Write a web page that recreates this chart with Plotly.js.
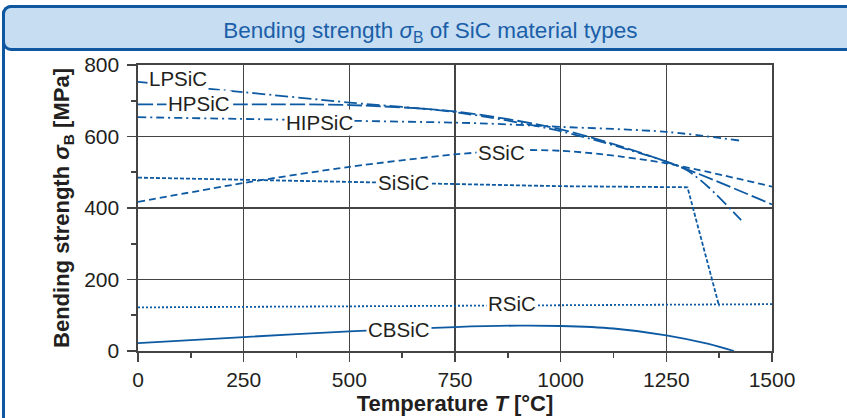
<!DOCTYPE html>
<html>
<head>
<meta charset="utf-8">
<script src="https://cdn.plot.ly/plotly-3.0.1.min.js"></script>
<style>
  html, body { margin:0; padding:0; background:#ffffff; width:847px; height:418px; overflow:hidden; }
  #frame { position:absolute; left:2px; top:5px; width:900px; height:500px; border-left:3px solid #0f57a0; border-top:3px solid #0f57a0; border-radius:9px 0 0 0; box-sizing:border-box; }
  #header { position:absolute; left:2px; top:5px; width:900px; height:46px; background:#c6ddf2; border:3px solid #0f57a0; border-radius:9px; box-sizing:border-box; }
  #chart { position:absolute; left:0; top:0; width:847px; height:418px; }
</style>
</head>
<body>
<div id="frame"></div>
<div id="header"></div>
<div id="chart"></div>
<script>
// Temperature (°C) and bending strength (MPa) per material
const lpsicT  = [0, 250, 500, 750, 1000, 1250, 1300, 1350, 1427];
const lpsicS  = [753, 724, 695, 668, 615, 530, 505, 458, 366];
const hpsicT  = [0, 250, 500, 750, 1000, 1250, 1500];
const hpsicS  = [690, 690, 688, 670, 620, 530, 410];
const hipsicT = [0, 400, 808, 1000, 1250, 1427];
const hipsicS = [654, 646, 637, 627, 613, 588];
const ssicT   = [0, 250, 500, 750, 900, 1000, 1100, 1250, 1500];
const ssicS   = [417, 470, 515, 550, 562, 560, 550, 525, 460];
const sisicT  = [0, 500, 1000, 1300, 1375];
const sisicS  = [485, 473, 461, 458, 125];
const rsicT   = [0, 1500];
const rsicS   = [122, 131];
const cbsicT  = [0, 250, 500, 750, 900, 1000, 1125, 1250, 1350, 1410];
const cbsicS  = [22, 39, 55, 67, 71, 70, 63, 44, 20, 0];

const labelNames = ["LPSiC", "HPSiC", "HIPSiC", "SSiC", "SiSiC", "RSiC", "CBSiC"];
const labelT     = [94, 144, 430, 861, 629, 884, 617];
const labelS     = [761, 691, 640, 556, 472, 133, 61];

const xTicks = [0, 250, 500, 750, 1000, 1250, 1500];
const yTicks = [0, 200, 400, 600, 800];

const lineColor = "#0d5aa3";
const FONT = "Liberation Sans, Arial, sans-serif";
function tr(name, x, y, dash, shape) {
  return { type:"scatter", mode:"lines", name:name, x:x, y:y,
           line:{ color:lineColor, width:1.8, dash:dash, shape:shape || "linear", smoothing:0.8 }, hoverinfo:"skip" };
}
const data = [
  tr("LPSiC", lpsicT, lpsicS, "13px,4px,2px,4px", "spline"),
  tr("HPSiC", hpsicT, hpsicS, "15px,4px", "spline"),
  tr("HIPSiC", hipsicT, hipsicS, "8px,4px,2px,4px", "spline"),
  tr("SSiC", ssicT, ssicS, "7px,4px", "spline"),
  tr("SiSiC", sisicT, sisicS, "4px,2px"),
  tr("RSiC", rsicT, rsicS, "2px,2px"),
  tr("CBSiC", cbsicT, cbsicS, "solid", "spline")
];

const annotations = labelNames.map((n, i) => ({
  x: labelT[i], y: labelS[i], xref:"x", yref:"y", text:n, showarrow:false,
  font:{ family:FONT, size:20.5, color:"#231f20" },
  bgcolor:"#ffffff", borderpad:1
}));

const gridC = "#444444";
const axisCommon = {
  showgrid:true, gridcolor:gridC, gridwidth:1.6,
  showline:true, mirror:true, linecolor:gridC, linewidth:1.6,
  ticks:"outside", ticklen:9, tickwidth:1.6, tickcolor:gridC,
  zeroline:false,
  tickfont:{ family:FONT, size:21, color:"#231f20" }
};

const layout = {
  width:847, height:418,
  margin:{ l:138, r:75, t:65, b:67 },
  paper_bgcolor:"rgba(0,0,0,0)", plot_bgcolor:"#ffffff",
  showlegend:false,
  title:{ text:"Bending strength <i>σ</i><sub>B</sub> of SiC material types",
          font:{ family:FONT, size:22.5, color:"#1b5fa8" },
          x:0.508, xref:"container", xanchor:"center",
          y:1-30/418, yref:"container", yanchor:"middle" },
  xaxis: Object.assign({}, axisCommon, {
    range:[0,1500], tickvals:xTicks, ticktext:xTicks.map(String),
    minor:{ dtick:125, tick0:0, ticks:"outside", ticklen:5, tickwidth:1.6, tickcolor:gridC, showgrid:false },
    title:{ text:"<b>Temperature <i>T</i> [°C]</b>", standoff:0,
            font:{ family:FONT, size:22, color:"#231f20" } }
  }),
  yaxis: Object.assign({}, axisCommon, {
    range:[0,800], tickvals:yTicks, ticktext:yTicks.map(String), ticklabelstandoff:4,
    minor:{ dtick:100, tick0:0, ticks:"outside", ticklen:5, tickwidth:1.6, tickcolor:gridC, showgrid:false },
    title:{ text:"<b>Bending strength <i>σ</i><sub>B</sub> [MPa]</b>", standoff:8,
            font:{ family:FONT, size:22, color:"#231f20" } }
  }),
  annotations: annotations
};

Plotly.newPlot("chart", data, layout, { staticPlot:true, displayModeBar:false });
</script>
</body>
</html>
